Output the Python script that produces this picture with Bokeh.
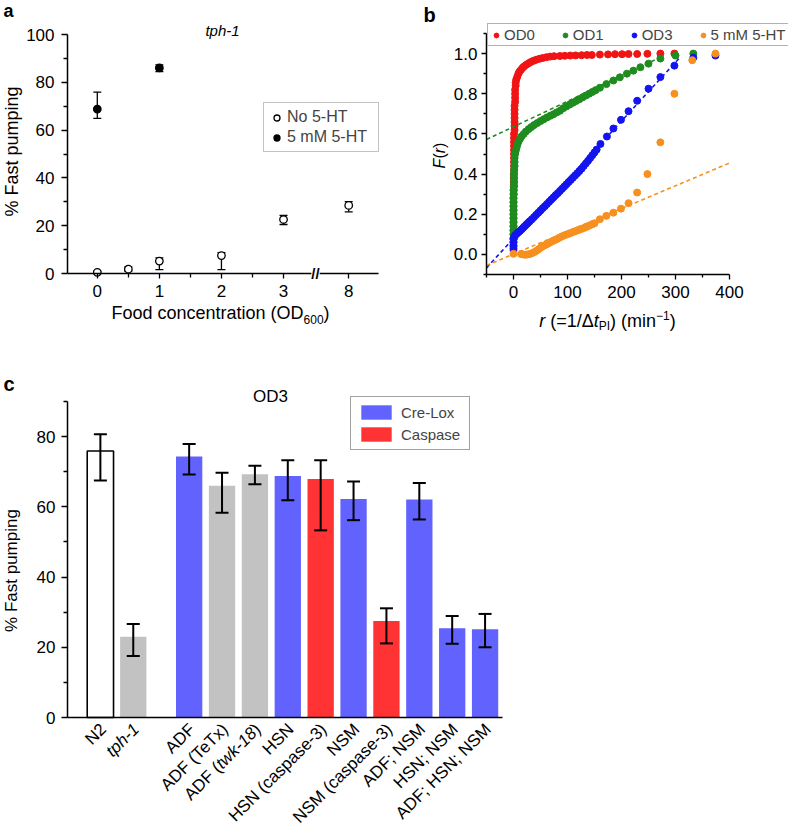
import math
from bokeh.plotting import figure
from bokeh.models import (Range1d, FixedTicker, Label, Legend, LegendItem, Whisker, TeeHead,
                          ColumnDataSource, PrintfTickFormatter)
from bokeh.layouts import column, row
from bokeh.embed import file_html
from bokeh.resources import INLINE

FONT = "Liberation Sans"

# ---------------- panel a data ----------------
a_tick_labels = ["0", "1", "2", "3", "8"]
no5ht_od = [0, 0.5, 1, 2, 3, 8]
no5ht_pct = [0.5, 1.8, 5.2, 7.5, 22.6, 28.5]
no5ht_lo = [0.0, 1.0, 1.6, 1.6, 20.5, 25.8]
no5ht_hi = [1.0, 2.8, 6.5, 8.7, 24.3, 30.1]
ht5_od = [0, 1]
ht5_pct = [68.8, 86.0]
ht5_lo = [64.9, 84.5]
ht5_hi = [75.9, 87.3]

# ---------------- panel b data (r, F(r)) ----------------
od0_r = [0, 0, 0, 0, 0, 0, 0, 0, 0, 0, 0, 0, 0, 0, 0.5, 0.5, 0.5, 0.5, 0.5, 0.5,
         1, 1, 1, 1, 1, 1, 1, 1, 1, 1, 2, 2, 2, 2, 2, 2, 2, 3, 3, 3, 3, 4, 4,
         5, 7, 9, 11, 14, 17, 20, 24, 28, 32, 37, 42, 48, 54, 61, 68, 75,
         86, 95, 105, 115, 126, 136, 145, 160, 175, 188, 201, 213, 229, 248, 272, 298]
od0_F = [0.02, 0.04, 0.06, 0.08, 0.10, 0.12, 0.14, 0.16, 0.18, 0.20, 0.22, 0.24, 0.26, 0.28,
         0.30, 0.32, 0.34, 0.36, 0.38, 0.40, 0.42, 0.44, 0.46, 0.48, 0.50, 0.52, 0.54, 0.56,
         0.58, 0.60, 0.62, 0.64, 0.66, 0.68, 0.70, 0.72, 0.74, 0.76, 0.78, 0.80, 0.82, 0.84, 0.855,
         0.87, 0.885, 0.90, 0.91, 0.92, 0.93, 0.937, 0.945, 0.952, 0.958, 0.964, 0.969, 0.974,
         0.978, 0.982, 0.985, 0.987,
         0.988, 0.989, 0.99, 0.991, 0.992, 0.993, 0.993, 0.995, 0.996, 0.997, 0.997, 0.998,
         0.998, 0.999, 1.0, 1.0]
od1_r = [0, 0, 0, 0, 0, 0, 0, 0, 0, 0, 0, 0, 0, 1, 1, 1, 1, 1, 2, 2, 2, 3,
         4, 5.5, 7, 9, 12, 15, 19, 23, 28, 33, 38, 44, 50, 56, 62, 68, 74, 80, 86, 92, 98,
         104, 110, 116, 122, 128, 134, 140, 146, 152,
         160, 172, 185, 197, 210, 222, 235, 250, 272, 300, 333]
od1_F = [0.08, 0.10, 0.12, 0.14, 0.16, 0.18, 0.20, 0.22, 0.24, 0.26, 0.28, 0.30, 0.32,
         0.34, 0.36, 0.38, 0.40, 0.42, 0.44, 0.46, 0.48, 0.50,
         0.515, 0.53, 0.545, 0.56, 0.575, 0.588, 0.60, 0.612, 0.624, 0.634, 0.644, 0.654,
         0.664, 0.673, 0.682, 0.69, 0.698, 0.707, 0.715, 0.728, 0.737,
         0.746, 0.755, 0.764, 0.773, 0.782, 0.791, 0.80, 0.809, 0.818,
         0.83, 0.848, 0.866, 0.882, 0.90, 0.915, 0.932, 0.95, 0.975, 0.99, 1.0]
od3_r = [0, 0, 0, 0, 1, 3, 6, 9, 12, 15, 18, 21, 24, 27, 30,
         34, 38, 42, 46, 50, 54, 58, 62, 66, 70, 74, 78, 82, 86, 90, 94, 98, 102, 106, 110,
         114, 118, 122, 126, 130, 134, 138, 142, 146, 150, 154,
         161, 173, 185, 199, 213, 229, 250, 272, 298, 333, 374]
od3_F = [0.03, 0.045, 0.06, 0.075, 0.085, 0.095, 0.103, 0.11, 0.117, 0.125, 0.133, 0.141,
         0.149, 0.157, 0.165,
         0.175, 0.186, 0.197, 0.208, 0.219, 0.23, 0.24, 0.251, 0.262, 0.273, 0.284, 0.295,
         0.305, 0.316, 0.327, 0.338, 0.349, 0.36, 0.371, 0.382, 0.393, 0.404, 0.415, 0.427,
         0.44, 0.453, 0.466, 0.48, 0.494, 0.508, 0.522,
         0.55, 0.587, 0.627, 0.67, 0.713, 0.765, 0.825, 0.883, 0.94, 0.98, 0.99]
ht_r = [0, 14, 18, 22, 26, 30, 34, 38, 42, 46, 50, 54, 58, 62, 66, 70,
        75, 80, 85, 90, 95, 100, 105, 110, 115, 120, 125, 130, 135, 140, 145, 150,
        160, 172, 185, 199, 213, 229, 248, 272, 298, 331, 374]
ht_F = [0.003, 0.002, 0.0, -0.002, 0.0, 0.002, 0.006, 0.011, 0.017, 0.025, 0.033, 0.04,
        0.046, 0.051, 0.057, 0.063,
        0.069, 0.076, 0.083, 0.09, 0.096, 0.101, 0.106, 0.111, 0.116, 0.121, 0.126, 0.131,
        0.137, 0.143, 0.149, 0.155,
        0.175, 0.192, 0.208, 0.228, 0.255, 0.308, 0.4, 0.558, 0.8, 0.967, 1.0]
# dashed linear fits (end points)
fit1_r = [-50, 275]
fit1_F = [0.572, 0.985]
fit3_r = [-50, 309]
fit3_F = [-0.067, 0.983]
fitht_r = [-50, 400]
fitht_F = [-0.055, 0.455]

# ---------------- panel c data ----------------
c_labels = ["N2", "tph-1", "ADF", "ADF (TeTx)", "ADF (twk-18)", "HSN", "HSN (caspase-3)",
            "NSM", "NSM (caspase-3)", "ADF; NSM", "HSN; NSM", "ADF; HSN; NSM"]
c_italic = {"tph-1": "tph-1", "ADF (twk-18)": "twk-18"}
c_values = [75.9, 23.0, 74.3, 66.0, 69.3, 68.8, 67.9, 62.2, 27.5, 62.1, 25.4, 25.1]
c_upper = [80.7, 26.6, 77.9, 69.7, 71.7, 73.3, 73.3, 67.2, 31.1, 66.8, 28.9, 29.5]
c_lower = [67.5, 17.5, 69.2, 58.3, 66.4, 61.9, 53.3, 56.2, 21.1, 56.4, 21.0, 20.0]
c_group = ["wt", "ctrl", "cre", "ctrl", "ctrl", "cre", "casp", "cre", "casp", "cre", "cre", "cre"]

# ---------------- helpers ----------------
W = {' ': 278, '(': 333, ')': 333, '=': 584, '/': 278, '-': 333, ';': 278, '.': 278, '%': 889,
     '\u2212': 584, '\u0394': 668,
     'A': 667, 'C': 722, 'D': 722, 'F': 611, 'H': 722, 'I': 278, 'L': 556, 'M': 833, 'N': 722,
     'O': 778, 'P': 667, 'S': 667, 'T': 611, 'X': 667,
     'a': 556, 'c': 500, 'd': 556, 'e': 556, 'g': 556, 'h': 556, 'i': 222, 'k': 500, 'm': 833,
     'n': 556, 'o': 556, 'p': 556, 'r': 333, 's': 500, 't': 278, 'u': 556, 'w': 722, 'x': 500}


def tw(s, size):
    return sum(W.get(ch, 556) for ch in s) / 1000.0 * size


def mk_lab(x, y, text, size, style="normal", align="left", baseline="middle", angle=0.0, **kw):
    return Label(x=x, y=y, text=text, text_font=FONT, text_font_size=f"{size}px",
                 text_font_style=style, text_align=align, text_baseline=baseline,
                 angle=angle, text_color="black", **kw)


class Panel:
    """A figure whose frame fills its whole canvas; page pixels <-> data."""

    def __init__(self, ox, oy, w, h, xa, ya):
        self.ox, self.oy, self.w, self.h = ox, oy, w, h
        self.xa, self.ya = xa, ya
        self.p = figure(width=w, height=h, output_backend="svg", toolbar_location=None,
                        x_range=Range1d(self.x(ox), self.x(ox + w)),
                        y_range=Range1d(self.y(oy + h), self.y(oy)),
                        min_border=0, min_border_left=0, min_border_right=0,
                        min_border_top=0, min_border_bottom=0)
        p = self.p
        p.outline_line_color = None
        p.grid.visible = False
        for ax in p.axis:
            ax.axis_line_width = 1.5
            ax.axis_line_color = "black"
            ax.major_tick_line_width = 1.3
            ax.minor_tick_line_width = 1.3
            ax.major_tick_line_color = "black"
            ax.minor_tick_line_color = "black"
            ax.major_tick_in = 0
            ax.minor_tick_in = 0
            ax.major_label_text_font = FONT
            ax.major_label_text_font_size = "17px"
            ax.major_label_text_color = "black"
        p.xaxis.fixed_location = ya[1]
        p.xaxis.bounds = (xa[1], xa[3])
        p.yaxis.fixed_location = xa[1]
        p.yaxis.bounds = (ya[1], ya[3])

    def x(self, px):
        px0, v0, px1, v1 = self.xa
        return v0 + (px - px0) * (v1 - v0) / (px1 - px0)

    def y(self, py):
        py0, v0, py1, v1 = self.ya
        return v0 + (py - py0) * (v1 - v0) / (py1 - py0)

    def px(self, x):
        px0, v0, px1, v1 = self.xa
        return px0 + (x - v0) * (px1 - px0) / (v1 - v0)

    def loc(self, left, bottom):
        return (left - self.ox, self.oy + self.h - bottom)

    def label(self, px, py, text, size, style="normal", **kw):
        self.p.add_layout(mk_lab(self.x(px), self.y(py), text, size, style, **kw))

    def rich_h(self, cx, my, pieces):
        # pieces: (text, size, style, dy); my = vertical centre of the main text
        total = sum(tw(t, s) for t, s, _, _ in pieces)
        x = cx - total / 2
        for t, s, st, dy in pieces:
            lead = len(t) - len(t.lstrip(" "))
            self.label(x + tw(" " * lead, s), my + dy, t.strip(" "), s, st)
            x += tw(t, s)

    def rich_v(self, mx, cy, pieces):
        total = sum(tw(t, s) for t, s, _ in pieces)
        y = cy + total / 2
        for t, s, st in pieces:
            self.label(mx, y, t, s, st, angle=math.pi / 2)
            y -= tw(t, s)

    def rich_rot_right(self, ax, ay, pieces, angle):
        acc = 0.0
        for t, s, st in reversed(pieces):
            trail = len(t) - len(t.rstrip(" "))
            off = acc + tw(" " * trail, s)
            self.label(ax - off * math.cos(angle), ay + off * math.sin(angle), t.strip(" "), s, st,
                       align="right", angle=angle)
            acc += tw(t, s)


def add_whiskers(p, xs, lo, hi, cap, lw, level):
    src = ColumnDataSource(dict(x=xs, lo=lo, hi=hi))
    p.add_layout(Whisker(source=src, base="x", lower="lo", upper="hi", dimension="height",
                         line_color="black", line_width=lw, level=level,
                         upper_head=TeeHead(size=cap, line_color="black", line_width=lw),
                         lower_head=TeeHead(size=cap, line_color="black", line_width=lw)))


# ======================= panel a =======================
BREAK_POS = 4.05  # axis position of OD 8 (broken axis)


def a_pos(od):
    return od if od <= 3 else BREAK_POS


A = Panel(0, 0, 400, 334, (67, -0.48, 378, 4.53), (273, 0, 34, 100))
pa = A.p
a_ticks = [a_pos(float(t)) for t in a_tick_labels]
pa.xaxis.ticker = FixedTicker(ticks=a_ticks, minor_ticks=[0.5, 1.5, 2.5])
pa.xaxis.major_label_overrides = {t: l for t, l in zip(a_ticks, a_tick_labels)}
pa.xaxis.major_tick_out = 5
pa.xaxis.minor_tick_out = 4
pa.xaxis.major_label_standoff = 6
pa.yaxis.ticker = FixedTicker(ticks=[0, 20, 40, 60, 80, 100], minor_ticks=[10, 30, 50, 70, 90])
pa.yaxis.major_tick_out = 6
pa.yaxis.minor_tick_out = 4
pa.yaxis.major_label_standoff = 7

add_whiskers(pa, [a_pos(v) for v in no5ht_od], no5ht_lo, no5ht_hi, 8, 1.3, "underlay")
add_whiskers(pa, [a_pos(v) for v in ht5_od], ht5_lo, ht5_hi, 8, 1.3, "underlay")
r_open = pa.scatter([a_pos(v) for v in no5ht_od], no5ht_pct, size=7.5, fill_color="white",
                    line_color="black", line_width=1.3)
r_fill = pa.scatter([a_pos(v) for v in ht5_od], ht5_pct, size=7.5, fill_color="black",
                    line_color="black", line_width=1.3)
pa.add_layout(Legend(items=[LegendItem(label="No 5-HT", renderers=[r_open]),
                            LegendItem(label="5 mM 5-HT", renderers=[r_fill])],
                     location=A.loc(263, 152), padding=5, spacing=2, glyph_width=15,
                     glyph_height=17, label_standoff=3, label_height=17, label_width=86,
                     label_text_font=FONT, label_text_font_size="16px",
                     border_line_color="#888888", border_line_width=1.2, margin=0))
A.label(315, 273, "//", 15, "bold", align="center", background_fill_color="white")
A.label(222, 29.5, "tph-1", 15, "italic", align="center")
A.label(3, 10.5, "a", 18, "bold")
A.label(11, 151, "% Fast pumping", 18, align="center", angle=math.pi / 2)
A.rich_h(220, 312.7, [("Food concentration (OD", 18, "normal", 0), ("600", 12, "normal", 5.8),
                      (")", 18, "normal", 0)])

# ======================= panel b =======================
B = Panel(400, 0, 388, 334, (486, -50, 729, 400), (274, -0.1, 33, 1.1))
pb = B.p
pb.xaxis.ticker = FixedTicker(ticks=[0, 100, 200, 300, 400], minor_ticks=[-50, 50, 150, 250, 350])
pb.xaxis.major_tick_out = 5
pb.xaxis.minor_tick_out = 3
pb.xaxis.major_label_standoff = 6
pb.yaxis.ticker = FixedTicker(ticks=[0, 0.2, 0.4, 0.6, 0.8, 1.0],
                              minor_ticks=[-0.1, 0.1, 0.3, 0.5, 0.7, 0.9, 1.1])
pb.yaxis.formatter = PrintfTickFormatter(format="%.1f")
pb.yaxis.major_tick_out = 5
pb.yaxis.minor_tick_out = 3
pb.yaxis.major_label_standoff = 4

RED, GREEN, BLUE, ORANGE = "#f01414", "#1e8c1e", "#1414f0", "#f7901e"
r0 = pb.scatter(od0_r, od0_F, size=7, color=RED)
r1 = pb.scatter(od1_r, od1_F, size=7, color=GREEN)
r3 = pb.scatter(od3_r, od3_F, size=7, color=BLUE)
rh = pb.scatter(ht_r, ht_F, size=7, color=ORANGE)
pb.line(fit1_r, fit1_F, line_color=GREEN, line_width=1.6, line_dash="4 3")
pb.line(fit3_r, fit3_F, line_color=BLUE, line_width=1.6, line_dash="4 3")
pb.line(fitht_r, fitht_F, line_color=ORANGE, line_width=1.6, line_dash="4 3")
pb.add_layout(Legend(items=[LegendItem(label="OD0", renderers=[r0]),
                            LegendItem(label="OD1", renderers=[r1]),
                            LegendItem(label="OD3", renderers=[r3]),
                            LegendItem(label="5 mM 5-HT", renderers=[rh])],
                     orientation="horizontal", location=B.loc(487, 46), padding=2, spacing=24,
                     glyph_width=12, glyph_height=14, label_standoff=2, label_height=14,
                     label_text_font=FONT, label_text_font_size="15px",
                     border_line_color="#666666", border_line_width=1, margin=0))
B.label(423, 14.5, "b", 20, "bold")
B.rich_v(439, 155, [("F", 16, "italic"), ("(", 16, "normal"), ("r", 16, "italic"),
                    (")", 16, "normal")])
B.rich_h(607, 320.5, [("r", 18, "italic", 0), (" (=1/\u0394", 18, "normal", 0),
                      ("t", 18, "italic", 0), ("PI", 12, "normal", 5),
                      (") (min", 18, "normal", 0), ("\u22121", 12, "normal", -6),
                      (")", 18, "normal", 0)])

# ======================= panel c =======================
C = Panel(0, 334, 788, 499, (67, -1, 502, 12.23), (717, 0, 401, 90))
pc = C.p
GAP = 0.7  # extra space between the controls and the cell-specific strains
c_pos = [i + (GAP if i >= 2 else 0) for i in range(len(c_labels))]

pc.xaxis.ticker = FixedTicker(ticks=[], minor_ticks=[])
pc.xaxis.major_label_text_font_size = "0px"
pc.yaxis.ticker = FixedTicker(ticks=[0, 20, 40, 60, 80], minor_ticks=[10, 30, 50, 70, 90])
pc.yaxis.major_tick_out = 6
pc.yaxis.minor_tick_out = 4
pc.yaxis.major_label_standoff = 6

styles = {"wt": dict(fill_color="white", line_color="black", line_width=1.6),
          "ctrl": dict(fill_color="#c2c2c2", line_color=None),
          "cre": dict(fill_color="#6262ff", line_color=None),
          "casp": dict(fill_color="#ff3333", line_color=None)}
rends = {}
for grp, st in styles.items():
    idx = [i for i, g in enumerate(c_group) if g == grp]
    src = ColumnDataSource(dict(x=[c_pos[i] for i in idx], top=[c_values[i] for i in idx]))
    rends[grp] = pc.vbar(x="x", top="top", bottom=0, width=0.8, source=src, **st)
add_whiskers(pc, c_pos, c_lower, c_upper, 13, 2, "annotation")

pc.add_layout(Legend(items=[LegendItem(label="Cre-Lox", renderers=[rends["cre"]]),
                            LegendItem(label="Caspase", renderers=[rends["casp"]])],
                     location=C.loc(350, 450), padding=6, spacing=4, glyph_width=38,
                     glyph_height=18, label_standoff=6, label_height=18, label_width=62,
                     label_text_font=FONT, label_text_font_size="15px",
                     border_line_color="#444444", border_line_width=1.5, margin=0))
C.label(270, 395.8, "OD3", 17, align="center")
C.label(3, 383.8, "c", 20, "bold")
C.label(11, 570, "% Fast pumping", 17, align="center", angle=math.pi / 2)

ANG = math.pi / 4
for lab, x in zip(c_labels, c_pos):
    it = c_italic.get(lab)
    if it is None:
        pieces = [(lab, 17, "normal")]
    else:
        i0 = lab.index(it)
        pieces = [(t, 17, s) for t, s in ((lab[:i0], "normal"), (it, "italic"),
                                          (lab[i0 + len(it):], "normal")) if t]
    C.rich_rot_right(C.px(x) + 3, 726, pieces, ANG)

layout = column(row(pa, pb), pc)
open("out.html", "w").write(file_html(layout, INLINE))
